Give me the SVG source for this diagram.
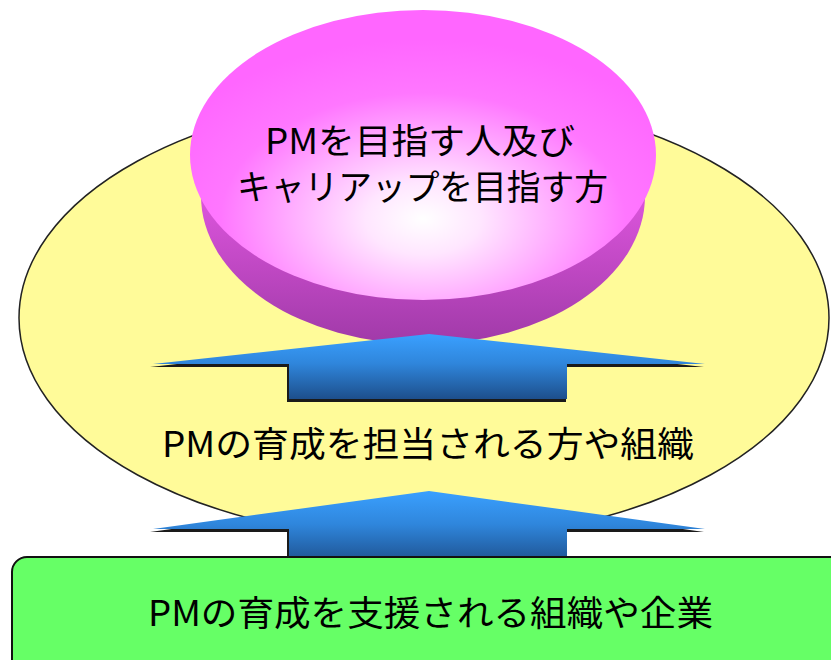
<svg xmlns="http://www.w3.org/2000/svg" width="831" height="660" viewBox="0 0 831 660">
  <defs>
    <style>
      .lbl { font-family: "Noto Sans CJK JP", "Noto Sans", sans-serif; font-size: 35px; fill: #000; }
      .arrow { fill: url(#blue); }
      .shadow { fill: #1a1a1a; }
    </style>
    <linearGradient id="blue" x1="0" y1="0" x2="0" y2="1">
      <stop offset="0" stop-color="#3aa0ff"/>
      <stop offset="0.45" stop-color="#2f86dc"/>
      <stop offset="1" stop-color="#1d4f8c"/>
    </linearGradient>
    <radialGradient id="pinkTop" cx="0.5" cy="0.72" r="0.62" fx="0.5" fy="0.72">
      <stop offset="0" stop-color="#ffffff"/>
      <stop offset="0.2" stop-color="#ffe6ff"/>
      <stop offset="0.7" stop-color="#ff77ff"/>
      <stop offset="1" stop-color="#ff66ff"/>
    </radialGradient>
    <linearGradient id="pinkSide" x1="0" y1="0" x2="0" y2="1">
      <stop offset="0.5" stop-color="#dd55dd"/>
      <stop offset="1" stop-color="#a03aa8"/>
    </linearGradient>
  </defs>

  <g id="outer-ellipse">
    <ellipse cx="424" cy="318" rx="405" ry="222" fill="#fffb99" stroke="#222" stroke-width="1.5"/>
  </g>

  <g id="top-disk">
    <ellipse cx="423" cy="196" rx="222" ry="148" fill="url(#pinkSide)"/>
    <ellipse cx="423" cy="155" rx="233" ry="145" fill="url(#pinkTop)"/>
    <text class="lbl" x="265" y="154" textLength="310" lengthAdjust="spacingAndGlyphs">PMを目指す人及び</text>
    <text class="lbl" x="237" y="200" textLength="371" lengthAdjust="spacingAndGlyphs">キャリアップを目指す方</text>
  </g>

  <g id="connectors">
    <polygon class="shadow" points="429,336 704,367 566,367 566,402 287,402 287,367 150,367"/>
    <polygon class="arrow" points="429,334 705,364 567,364 567,399 289,399 289,364 153,364"/>
    <polygon class="shadow" points="429,493 704,532 566,532 566,565 287,565 287,532 150,532"/>
    <polygon class="arrow" points="429,491 705,529 567,529 567,565 289,565 289,529 153,529"/>
  </g>

  <g id="middle-label">
    <text class="lbl" x="162" y="457" textLength="532" lengthAdjust="spacingAndGlyphs">PMの育成を担当される方や組織</text>
  </g>

  <g id="bottom-box">
    <rect x="12" y="557" width="840" height="120" rx="15" fill="#66ff66" stroke="#111" stroke-width="2"/>
    <text class="lbl" x="148" y="626" textLength="565" lengthAdjust="spacingAndGlyphs">PMの育成を支援される組織や企業</text>
  </g>
</svg>
